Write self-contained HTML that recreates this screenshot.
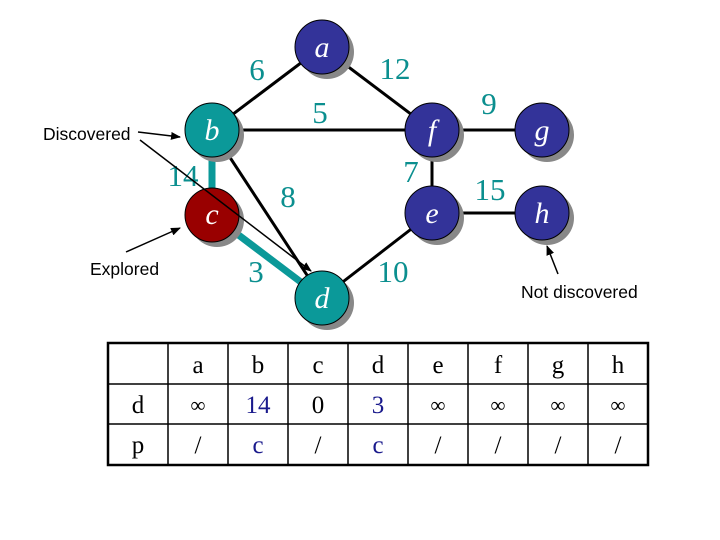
<!DOCTYPE html>
<html><head><meta charset="utf-8"><style>
body{margin:0;background:#fff;}
svg{display:block;}
.n{font-family:"Liberation Serif",serif;font-style:italic;font-size:30px;fill:#fff;text-anchor:middle;}
.w{font-family:"Liberation Serif",serif;font-size:31px;fill:#0b8f8f;text-anchor:middle;}
.l{font-family:"Liberation Sans",sans-serif;font-size:17.5px;fill:#000;}
.t{font-family:"Liberation Serif",serif;font-size:25px;fill:#000;text-anchor:middle;}
.i{font-size:21px;}
.tb{fill:#1a1a8c;}
</style></head><body>
<svg width="720" height="540" viewBox="0 0 720 540">
<defs><marker id="ar" markerWidth="10" markerHeight="8" refX="9" refY="4" orient="auto" markerUnits="userSpaceOnUse"><path d="M0,0 L10,4 L0,8z" fill="#000"/></marker></defs>
<g stroke="#000" stroke-width="3">
<line x1="322" y1="47" x2="212" y2="130"/>
<line x1="322" y1="47" x2="432" y2="130"/>
<line x1="212" y1="130" x2="432" y2="130"/>
<line x1="212" y1="130" x2="322" y2="298"/>
<line x1="432" y1="130" x2="542" y2="130"/>
<line x1="432" y1="130" x2="432" y2="213"/>
<line x1="432" y1="213" x2="542" y2="213"/>
<line x1="432" y1="213" x2="322" y2="298"/>
</g>
<g stroke="#0b9999" stroke-width="7">
<line x1="212" y1="130" x2="212" y2="215"/>
<line x1="212" y1="215" x2="322" y2="298"/>
</g>
<g fill="#888">
<circle cx="327" cy="52" r="27"/><circle cx="217" cy="135" r="27"/><circle cx="217" cy="220" r="27"/><circle cx="327" cy="303" r="27"/>
<circle cx="437" cy="135" r="27"/><circle cx="547" cy="135" r="27"/><circle cx="437" cy="218" r="27"/><circle cx="547" cy="218" r="27"/>
</g>
<g stroke="#000" stroke-width="1">
<circle cx="322" cy="47" r="27" fill="#333399"/>
<circle cx="212" cy="130" r="27" fill="#0b9999"/>
<circle cx="212" cy="215" r="27" fill="#990000"/>
<circle cx="322" cy="298" r="27" fill="#0b9999"/>
<circle cx="432" cy="130" r="27" fill="#333399"/>
<circle cx="542" cy="130" r="27" fill="#333399"/>
<circle cx="432" cy="213" r="27" fill="#333399"/>
<circle cx="542" cy="213" r="27" fill="#333399"/>
</g>
<text class="n" x="322" y="57">a</text>
<text class="n" x="212" y="140">b</text>
<text class="n" x="212" y="224">c</text>
<text class="n" x="322" y="308">d</text>
<text class="n" x="432" y="140">f</text>
<text class="n" x="542" y="140">g</text>
<text class="n" x="432" y="223">e</text>
<text class="n" x="542" y="223">h</text>
<text class="w" x="257" y="80">6</text>
<text class="w" x="395" y="79">12</text>
<text class="w" x="320" y="123">5</text>
<text class="w" x="489" y="114">9</text>
<text class="w" x="183" y="186">14</text>
<text class="w" x="411" y="182">7</text>
<text class="w" x="288" y="207">8</text>
<text class="w" x="490" y="200">15</text>
<text class="w" x="256" y="282">3</text>
<text class="w" x="393" y="282">10</text>
<g stroke="#000" stroke-width="1.5" marker-end="url(#ar)">
<line x1="138" y1="132" x2="180" y2="137"/>
<line x1="140" y1="140" x2="311" y2="271"/>
<line x1="126" y1="252" x2="180" y2="228"/>
<line x1="558" y1="274" x2="547" y2="246"/>
</g>
<text class="l" x="43" y="140">Discovered</text>
<text class="l" x="90" y="275">Explored</text>
<text class="l" x="521" y="298">Not discovered</text>
<g stroke="#000" stroke-width="1.5" fill="none">
<rect x="108" y="343" width="540" height="122" stroke-width="2.5"/>
<line x1="108" y1="384" x2="648" y2="384"/><line x1="108" y1="424" x2="648" y2="424"/>
<line x1="168" y1="343" x2="168" y2="465"/><line x1="228" y1="343" x2="228" y2="465"/>
<line x1="288" y1="343" x2="288" y2="465"/><line x1="348" y1="343" x2="348" y2="465"/>
<line x1="408" y1="343" x2="408" y2="465"/><line x1="468" y1="343" x2="468" y2="465"/>
<line x1="528" y1="343" x2="528" y2="465"/><line x1="588" y1="343" x2="588" y2="465"/>
</g>
<g>
<text class="t" x="198" y="373">a</text><text class="t" x="258" y="373">b</text><text class="t" x="318" y="373">c</text><text class="t" x="378" y="373">d</text><text class="t" x="438" y="373">e</text><text class="t" x="498" y="373">f</text><text class="t" x="558" y="373">g</text><text class="t" x="618" y="373">h</text>
<text class="t" x="138" y="413">d</text><text class="t i" x="198" y="412">∞</text><text class="t tb" x="258" y="413">14</text><text class="t" x="318" y="413">0</text><text class="t tb" x="378" y="413">3</text><text class="t i" x="438" y="412">∞</text><text class="t i" x="498" y="412">∞</text><text class="t i" x="558" y="412">∞</text><text class="t i" x="618" y="412">∞</text>
<text class="t" x="138" y="453">p</text><text class="t" x="198" y="453">/</text><text class="t tb" x="258" y="453">c</text><text class="t" x="318" y="453">/</text><text class="t tb" x="378" y="453">c</text><text class="t" x="438" y="453">/</text><text class="t" x="498" y="453">/</text><text class="t" x="558" y="453">/</text><text class="t" x="618" y="453">/</text>
</g>
</svg>
</body></html>
